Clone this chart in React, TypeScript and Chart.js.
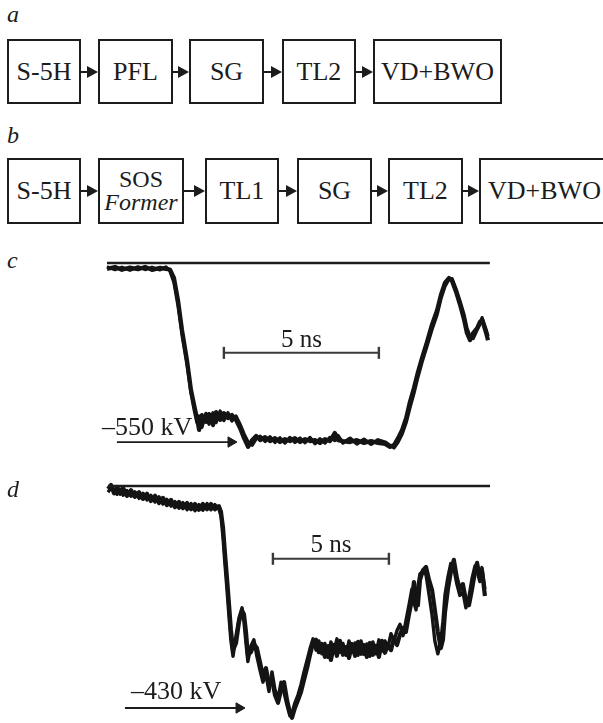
import { useEffect, useRef } from "react";
import { Chart, registerables } from "chart.js";

Chart.register(...registerables);

const SERIF = "'Liberation Serif', 'Times New Roman', serif";
const INK = "#1c1c1c";

// block diagrams (a) and (b)
const chainA = ["S-5H", "PFL", "SG", "TL2", "VD+BWO"];
const chainB = ["S-5H", "SOS\nFormer", "TL1", "SG", "TL2", "VD+BWO"];

// trace (c): time in ns, voltage in kV, two overlaid shots
const timeC = [
  0.0, 0.26, 0.48, 0.74, 1.0, 1.23, 1.45, 1.71, 1.9, 2.03, 2.16, 2.29, 2.42, 2.58, 2.71, 2.81,
  2.9, 2.97, 3.06, 3.19, 3.29, 3.42, 3.52, 3.65, 3.77, 3.9, 4.03, 4.16, 4.29, 4.42, 4.55, 4.68,
  4.81, 4.94, 5.1, 5.26, 5.42, 5.58, 5.74, 5.9, 6.06, 6.23, 6.39, 6.55, 6.71, 6.87, 7.03, 7.19,
  7.35, 7.45, 7.61, 7.84, 8.06, 8.29, 8.52, 8.74, 8.97, 9.13, 9.26, 9.39, 9.52, 9.65, 9.77, 9.9,
  10.03, 10.16, 10.32, 10.48, 10.65, 10.77, 10.9, 11.03, 11.13, 11.26, 11.39, 11.52, 11.61,
  11.71, 11.81, 11.94, 12.03, 12.1, 12.16, 12.23, 12.29,
];
const voltC = [
  -18, -12, -21, -14, -19, -12, -21, -15, -18, -20, -46, -114, -206, -298, -390, -436,
  -476, -513, -467, -488, -464, -498, -458, -482, -461, -476, -467, -482, -507, -538, -565, -544,
  -531, -544, -535, -547, -538, -550, -541, -547, -538, -550, -541, -547, -544, -553, -541, -547,
  -522, -544, -547, -550, -544, -553, -547, -553, -556, -565, -559, -538, -513, -476, -427, -384,
  -335, -292, -243, -190, -144, -98, -61, -46, -55, -89, -129, -175, -215,
  -237, -215, -200, -181, -175, -194, -215, -237,
];
const voltC2 = [
  -12, -20, -13, -22, -12, -20, -13, -21, -12, -24, -60, -130, -220, -312, -400, -450,
  -490, -470, -505, -462, -495, -460, -490, -455, -484, -460, -485, -470, -495, -525, -550, -560,
  -540, -532, -548, -534, -551, -537, -553, -536, -551, -538, -552, -536, -555, -540, -553, -536,
  -545, -530, -553, -538, -556, -541, -557, -543, -550, -560, -568, -550, -525, -490, -445, -400,
  -350, -305, -256, -205, -158, -110, -72, -50, -48, -80, -118, -160, -200,
  -225, -232, -205, -188, -168, -185, -205, -225,
];

// trace (d): time in ns, voltage in kV, two overlaid shots
const timeD = [
  0.0, 0.13, 0.26, 0.39, 0.52, 0.65, 0.82, 0.99, 1.16, 1.34, 1.51, 1.68, 1.85, 2.03, 2.2, 2.37,
  2.54, 2.72, 2.89, 3.06, 3.23, 3.41, 3.58, 3.75, 3.92, 4.09, 4.27, 4.44, 4.61, 4.78, 4.87, 4.96,
  5.04, 5.13, 5.22, 5.3, 5.39, 5.52, 5.65, 5.78, 5.86, 5.95, 6.03, 6.16, 6.29, 6.42, 6.55, 6.68,
  6.81, 6.94, 7.07, 7.2, 7.33, 7.46, 7.59, 7.72, 7.84, 7.93, 8.06, 8.19, 8.32, 8.45, 8.58, 8.71,
  8.84, 8.97, 9.09, 9.22, 9.35, 9.48, 9.61, 9.74, 9.87, 10.0, 10.13, 10.26, 10.39, 10.52, 10.65,
  10.78, 10.91, 11.03, 11.16, 11.29, 11.42, 11.55, 11.68, 11.81, 11.94, 12.07, 12.2, 12.33, 12.46,
  12.59, 12.72, 12.84, 12.97, 13.1, 13.19, 13.28, 13.36, 13.45, 13.58, 13.71, 13.84, 13.97, 14.09,
  14.22, 14.35, 14.44, 14.53, 14.66, 14.78, 14.91, 15.04, 15.17, 15.3, 15.43, 15.56, 15.69, 15.82,
  15.91, 16.03, 16.12, 16.25,
];
const voltD = [
  -6, 2, -14, -2, -15, -4, -19, -8, -21, -12, -25, -15, -29, -19, -33, -23,
  -37, -27, -41, -31, -43, -33, -45, -35, -46, -35, -45, -35, -45, -39, -50, -81,
  -128, -178, -231, -279, -318, -304, -263, -242, -248, -283, -327, -322, -306, -314, -341, -368,
  -353, -384, -374, -405, -420, -395, -380, -415, -438, -449, -430, -415, -399, -376, -353, -327,
  -304, -298, -322, -306, -331, -310, -337, -308, -329, -300, -327, -312, -333, -306, -329,
  -302, -325, -308, -331, -304, -327, -310, -331, -300, -323, -308, -318, -294, -308,
  -287, -275, -283, -250, -221, -186, -217, -231, -182, -163, -157, -182, -201, -240,
  -283, -314, -298, -244, -198, -167, -143, -178, -201, -190, -221, -231, -201, -167,
  -149, -178, -163, -213,
];
const voltD2 = [
  -12, -4, -10, -16, -6, -18, -9, -20, -11, -24, -14, -27, -18, -31, -21, -35,
  -26, -39, -30, -43, -32, -46, -34, -48, -36, -47, -34, -46, -36, -44, -58, -100,
  -150, -200, -255, -300, -330, -290, -255, -236, -262, -305, -340, -310, -298, -330, -356, -380,
  -365, -398, -360, -395, -412, -380, -400, -425, -445, -440, -420, -405, -385, -360, -338, -315,
  -296, -318, -300, -325, -305, -332, -302, -320, -296, -322, -305, -328, -300, -322, -304,
  -328, -300, -326, -306, -330, -302, -325, -298, -320, -300, -312, -286, -300, -280,
  -268, -290, -262, -232, -200, -226, -240, -195, -170, -165, -172, -210, -250, -300,
  -325, -300, -262, -210, -175, -150, -160, -190, -212, -205, -236, -215, -180, -155,
  -165, -185, -158, -200,
];

// scale bars (5 ns) and level arrows
const barC = [3.77, 8.77];
const arrowC = [0.32, 4.0];
const barD = [7.11, 12.11];
const arrowD = [0.73, 5.65];

// box layout in page pixels: [left, right]
const spansA = [[7, 81], [98, 173], [189, 264], [282, 356], [373, 502]];
const spansB = [[7, 81], [98, 184], [205, 279], [297, 372], [388, 463], [479, 610]];

type Note = { text: string; t: number; v: number; align: CanvasTextAlign; size: number };

type TraceProps = {
  top: number;
  height: number;
  xMin: number;
  xMax: number;
  yMin: number;
  yMax: number;
  times: number[];
  shots: number[][];
  zeroEnd: number;
  bar: number[];
  barLevel: number;
  arrow: number[];
  arrowLevel: number;
  notes: Note[];
};

function Trace(p: TraceProps) {
  const canvasRef = useRef<HTMLCanvasElement | null>(null);

  useEffect(() => {
    if (!canvasRef.current) return;

    const notesPlugin = {
      id: "notes",
      afterDatasetsDraw(chart: Chart) {
        const { ctx, scales } = chart;
        ctx.save();
        ctx.fillStyle = INK;
        ctx.textBaseline = "alphabetic";
        p.notes.forEach((n) => {
          ctx.font = `${n.size}px ${SERIF}`;
          ctx.textAlign = n.align;
          ctx.fillText(n.text, scales.x.getPixelForValue(n.t), scales.y.getPixelForValue(n.v));
        });
        ctx.restore();
      },
    };

    const shotSets = p.shots.map((volts, k) => ({
      data: p.times.map((t, i) => ({ x: t, y: volts[i] })),
      showLine: true,
      borderColor: "#141414",
      borderWidth: k === 0 ? 4.2 : 3.4,
      borderJoinStyle: "round" as const,
      pointRadius: 0,
      clip: false as const,
    }));

    const chart = new Chart(canvasRef.current, {
      type: "scatter",
      data: {
        datasets: [
          {
            data: [{ x: 0, y: 0 }, { x: p.zeroEnd, y: 0 }],
            showLine: true,
            borderColor: INK,
            borderWidth: 2.3,
            pointRadius: 0,
            clip: false,
          },
          ...shotSets,
          {
            data: p.bar.map((t) => ({ x: t, y: p.barLevel })),
            showLine: true,
            borderColor: "#3a3a3a",
            borderWidth: 2,
            pointStyle: "line",
            rotation: 90,
            pointRadius: 6,
            pointBorderColor: "#3a3a3a",
            pointBorderWidth: 2.4,
            clip: false,
          },
          {
            data: p.arrow.map((t) => ({ x: t, y: p.arrowLevel })),
            showLine: true,
            borderColor: INK,
            borderWidth: 1.8,
            pointStyle: "triangle",
            rotation: 90,
            pointRadius: [0, 6],
            pointBackgroundColor: INK,
            pointBorderColor: INK,
            pointBorderWidth: 1,
            clip: false,
          },
        ],
      },
      options: {
        animation: false,
        responsive: true,
        maintainAspectRatio: false,
        events: [],
        layout: { padding: 0, autoPadding: false },
        plugins: { legend: { display: false }, tooltip: { enabled: false } },
        scales: {
          x: { type: "linear", display: false, min: p.xMin, max: p.xMax },
          y: { type: "linear", display: false, min: p.yMin, max: p.yMax },
        },
      },
      plugins: [notesPlugin],
    });

    return () => chart.destroy();
  }, []);

  return (
    <div style={{ position: "absolute", left: 0, top: p.top, width: 603, height: p.height }}>
      <canvas ref={canvasRef}></canvas>
    </div>
  );
}

function ChainRow({ labels, spans, top, height }: { labels: string[]; spans: number[][]; top: number; height: number }) {
  return (
    <>
      {labels.map((label, i) => {
        const [l, r] = spans[i];
        const lines = label.split("\n");
        return (
          <div key={"box" + i}>
            {i > 0 && (
              <div
                style={{
                  position: "absolute",
                  left: spans[i - 1][1],
                  width: l - spans[i - 1][1],
                  top: top + height / 2 - 6,
                  height: 12,
                  display: "flex",
                  alignItems: "center",
                }}
              >
                <div style={{ flex: 1, height: 2, background: INK }}></div>
                <div
                  style={{
                    width: 0,
                    height: 0,
                    borderTop: "6px solid transparent",
                    borderBottom: "6px solid transparent",
                    borderLeft: `11px solid ${INK}`,
                  }}
                ></div>
              </div>
            )}
            <div
              style={{
                position: "absolute",
                left: l,
                top,
                width: r - l,
                height,
                boxSizing: "border-box",
                border: `2px solid ${INK}`,
                background: "#fff",
                display: "flex",
                flexDirection: "column",
                alignItems: "center",
                justifyContent: "center",
                fontSize: lines.length > 1 ? 24 : 26,
                lineHeight: lines.length > 1 ? "23px" : "normal",
              }}
            >
              {lines.map((ln, k) => (
                <span key={k} style={{ fontStyle: k > 0 ? "italic" : "normal" }}>
                  {ln}
                </span>
              ))}
            </div>
          </div>
        );
      })}
    </>
  );
}

function Letter({ ch, top }: { ch: string; top: number }) {
  return (
    <div style={{ position: "absolute", left: 7, top, fontSize: 24, lineHeight: "24px", fontStyle: "italic" }}>
      {ch}
    </div>
  );
}

export default function App() {
  return (
    <div
      style={{
        position: "absolute",
        left: 0,
        top: 0,
        width: 603,
        height: 723,
        overflow: "hidden",
        background: "#fff",
        color: INK,
        fontFamily: SERIF,
      }}
    >
      <Letter ch="a" top={2} />
      <ChainRow labels={chainA} spans={spansA} top={39} height={65} />
      <Letter ch="b" top={123} />
      <ChainRow labels={chainB} spans={spansB} top={158} height={66} />
      <Letter ch="c" top={248} />
      <Trace
        top={240}
        height={240}
        xMin={-3.452}
        xMax={16.0}
        yMin={-666.6}
        yMax={70.7}
        times={timeC}
        shots={[voltC, voltC2]}
        zeroEnd={12.35}
        bar={barC}
        barLevel={-276}
        arrow={arrowC}
        arrowLevel={-550}
        notes={[
          { text: "5 ns", t: 6.27, v: -258, align: "center", size: 25 },
          { text: "\u2013550 kV", t: -0.16, v: -528, align: "left", size: 26 },
        ]}
      />
      <Letter ch="d" top={477} />
      <Trace
        top={470}
        height={253}
        xMin={-4.655}
        xMax={21.34}
        yMin={-459.1}
        yMax={31.0}
        times={timeD}
        shots={[voltD, voltD2]}
        zeroEnd={16.47}
        bar={barD}
        barLevel={-141}
        arrow={arrowD}
        arrowLevel={-430}
        notes={[
          { text: "5 ns", t: 9.61, v: -128, align: "center", size: 25 },
          { text: "\u2013430 kV", t: 0.99, v: -413, align: "left", size: 26 },
        ]}
      />
    </div>
  );
}
